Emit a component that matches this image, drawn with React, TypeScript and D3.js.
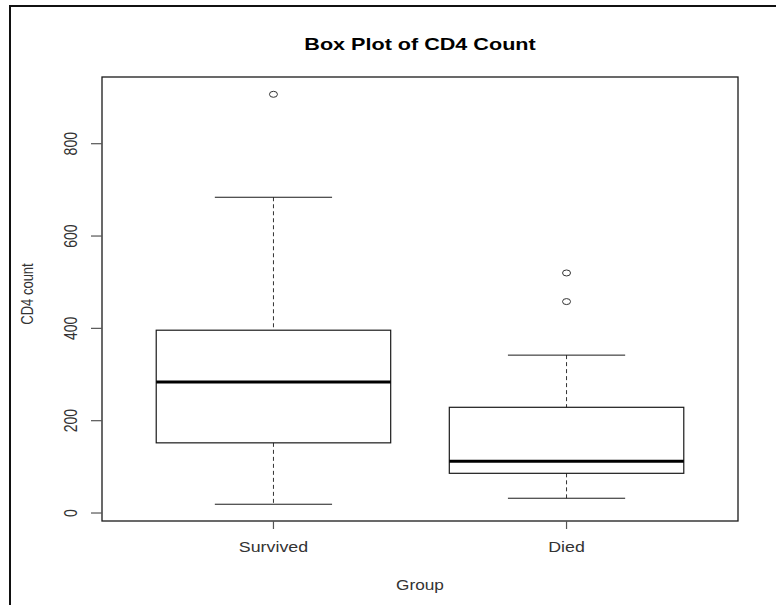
import React from 'react';
import {scaleLinear} from 'd3';

// values
const groups = ['Survived', 'Died'];
const lowerWhisker = [19, 32];
const lowerQuartile = [152, 86];
const medians = [284, 112];
const upperQuartile = [396, 229];
const upperWhisker = [684, 342];
const outliers = [[907], [458, 520]];
const yTicks = [0, 200, 400, 600, 800];

const W = 776;
const H = 605;
const plot = {l: 102, r: 738, t: 77, b: 521};
// the reference is stretched horizontally, so glyphs get widened too
const SX = 1.27;

const font = 'Liberation Sans, Arial, Helvetica, sans-serif';

const scaleX = scaleLinear().domain([0.415, 2.585]).range([plot.l, plot.r]);
const scaleY = scaleLinear().domain([-17.3, 944.5]).range([plot.b, plot.t]);

const boxHalf = 0.4;
const capHalf = 0.2;

const lineCol = '#1a1a1a';

export default function App() {
	return (
		<div style={{position: 'absolute', left: 0, top: 0, width: W, height: H, background: '#fff'}}>
			<svg width={W} height={H} style={{display: 'block'}}>
				<rect x={0} y={0} width={W} height={H} fill='#fff' />
				{/* outer frame */}
				<rect x={10} y={6} width={W + 20} height={H + 20} fill='none' stroke='#111' strokeWidth={2} />

				{/* title */}
				<text
					transform={`translate(420,49.5) scale(${SX},1)`}
					textAnchor='middle'
					fontFamily={font}
					fontWeight='bold'
					fontSize={17}
					fill='#000'
				>Box Plot of CD4 Count</text>

				{/* boxes */}
				{groups.map((g, i) => {
					const c = i + 1;
					const cx = scaleX(c);
					const x0 = scaleX(c - boxHalf);
					const x1 = scaleX(c + boxHalf);
					return (
						<g key={g}>
							<line x1={cx} x2={cx} y1={scaleY(upperWhisker[i])} y2={scaleY(upperQuartile[i])}
								stroke='#333' strokeWidth={1} strokeDasharray='4,3' />
							<line x1={cx} x2={cx} y1={scaleY(lowerQuartile[i])} y2={scaleY(lowerWhisker[i])}
								stroke='#333' strokeWidth={1} strokeDasharray='4,3' />
							<line x1={scaleX(c - capHalf)} x2={scaleX(c + capHalf)}
								y1={scaleY(upperWhisker[i])} y2={scaleY(upperWhisker[i])} stroke={lineCol} />
							<line x1={scaleX(c - capHalf)} x2={scaleX(c + capHalf)}
								y1={scaleY(lowerWhisker[i])} y2={scaleY(lowerWhisker[i])} stroke={lineCol} />
							<rect x={x0} y={scaleY(upperQuartile[i])} width={x1 - x0}
								height={scaleY(lowerQuartile[i]) - scaleY(upperQuartile[i])}
								fill='none' stroke={lineCol} strokeWidth={1.2} />
							<line x1={x0} x2={x1} y1={scaleY(medians[i])} y2={scaleY(medians[i])}
								stroke='#000' strokeWidth={3} />
							{outliers[i].map(v => (
								<ellipse key={v} cx={cx} cy={scaleY(v)} rx={4} ry={3}
									fill='none' stroke='#333' strokeWidth={1} />
							))}
						</g>
					);
				})}

				{/* plot box */}
				<rect x={plot.l} y={plot.t} width={plot.r - plot.l} height={plot.b - plot.t}
					fill='none' stroke={lineCol} strokeWidth={1.3} />

				{/* y axis */}
				{yTicks.map(t => (
					<g key={t}>
						<line x1={plot.l - 11} x2={plot.l} y1={scaleY(t)} y2={scaleY(t)} stroke='#555' strokeWidth={1.2} />
						<text
							transform={`translate(77,${scaleY(t)}) scale(${SX},1) rotate(-90)`}
							textAnchor='middle'
							fontFamily={font}
							fontSize={14}
							fill='#333'
						>{t}</text>
					</g>
				))}
				<text
					transform={`translate(33,294) scale(${SX},1) rotate(-90)`}
					textAnchor='middle'
					fontFamily={font}
					fontSize={13}
					fill='#333'
				>CD4 count</text>

				{/* x axis */}
				{groups.map((g, i) => (
					<g key={g}>
						<line x1={scaleX(i + 1)} x2={scaleX(i + 1)} y1={plot.b} y2={plot.b + 8} stroke='#555' strokeWidth={1.2} />
						<text
							transform={`translate(${scaleX(i + 1)},552) scale(${SX},1)`}
							textAnchor='middle'
							fontFamily={font}
							fontSize={14}
							fill='#333'
						>{g}</text>
					</g>
				))}
				<text
					transform={`translate(420,590) scale(${SX * 0.97},1)`}
					textAnchor='middle'
					fontFamily={font}
					fontSize={14}
					fill='#333'
				>Group</text>
			</svg>
		</div>
	);
}
